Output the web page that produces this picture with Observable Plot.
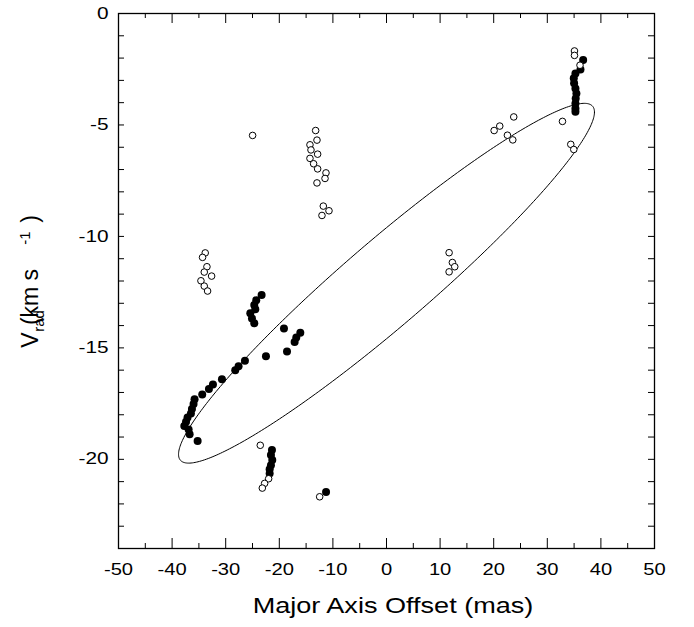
<!DOCTYPE html>
<html>
<head>
<meta charset="utf-8">
<script src="https://cdn.jsdelivr.net/npm/d3@7"></script>
<script src="https://cdn.jsdelivr.net/npm/@observablehq/plot@0.6"></script>
<style>
  html, body { margin: 0; padding: 0; background: white; }
</style>
</head>
<body>
<div id="chart"></div>
<script>
// Filled circles
const filledX = [-23.3, -24.3, -24.67, -24.48, -25.41, -25.1, -24.67,
  -19.13, -16.08, -16.83, -17.14, -18.56, -22.49,
  -26.41, -27.6, -28.22, -30.7, -32.38, -33.13, -34.38, -35.81, -36.0, -36.3, -36.49,
  -37.12, -37.4, -37.72, -36.92, -36.73, -35.24,
  -21.37, -21.56, -21.31, -21.56, -21.8, -21.8,
  -11.28,
  36.69, 36.19, 35.25, 34.94, 35.0, 35.25, 35.43, 35.3, 35.25, 35.25, 35.25];
const filledY = [-12.63, -12.86, -13.08, -13.27, -13.45, -13.68, -13.9,
  -14.13, -14.32, -14.53, -14.74, -15.16, -15.38,
  -15.58, -15.82, -16.0, -16.41, -16.64, -16.85, -17.09, -17.3, -17.52, -17.74, -17.94,
  -18.12, -18.31, -18.51, -18.66, -18.87, -19.18,
  -19.58, -19.81, -20.03, -20.26, -20.45, -20.63,
  -21.47,
  -2.09, -2.51, -2.69, -2.91, -3.13, -3.36, -3.59, -3.81, -4.04, -4.26, -4.41];

// Open circles
const openX = [-24.98,
  -13.22, -12.97, -14.28, -14.09, -12.85, -14.28, -13.6, -12.85, -11.29, -11.47, -12.97, -11.79, -10.73, -12.04,
  -33.82, -34.32, -33.5, -34.0, -32.63, -34.62, -34.0, -33.38,
  -23.55, -21.99, -22.74, -23.17, -12.47,
  35.07, 35.07, 36.1,
  32.83, 23.74, 21.13, 20.08, 22.56, 23.56, 34.38, 34.94,
  11.68, 12.29, 12.73, 11.68];
const openY = [-5.47,
  -5.25, -5.68, -5.89, -6.12, -6.31, -6.5, -6.74, -6.97, -7.15, -7.4, -7.6, -8.64, -8.85, -9.06,
  -10.74, -10.94, -11.36, -11.6, -11.78, -11.99, -12.23, -12.45,
  -19.37, -20.87, -21.08, -21.29, -21.68,
  -1.68, -1.88, -2.32,
  -4.84, -4.64, -5.05, -5.25, -5.46, -5.67, -5.87, -6.1,
  -10.73, -11.17, -11.36, -11.59];

// Fitted ellipse parameters (data units)
const ellipseCenterX = 0;
const ellipseCenterY = -12.1;
const ellipseXAmp = 38.8;
const ellipseYAmp = 8.07;
const ellipsePhase = 0.314;

// Axis ticks
const xLabelTicks = [-50, -40, -30, -20, -10, 0, 10, 20, 30, 40, 50];
const xMinorTicks = [-45, -35, -25, -15, -5, 5, 15, 25, 35, 45];
const yLabelTicks = [-20, -15, -10, -5, 0];
const yMinorTicks = d3.range(-24, 1, 1);

const filled = filledX.map((x, i) => ({x, y: filledY[i]}));
const open = openX.map((x, i) => ({x, y: openY[i]}));
const ellipse = d3.range(0, 361).map(d => {
  const t = d * Math.PI / 180;
  return {x: ellipseCenterX + ellipseXAmp * Math.cos(t), y: ellipseCenterY + ellipseYAmp * Math.cos(t - ellipsePhase)};
});

const fmt = d => String(d);
const W = 694, H = 627, ML = 118, MR = 40, MT = 13, MB = 79;
const frameW = W - ML - MR, frameH = H - MT - MB;

const chart = Plot.plot({
  width: W,
  height: H,
  marginLeft: ML,
  marginRight: MR,
  marginTop: MT,
  marginBottom: MB,
  style: {fontFamily: "'Liberation Sans', Arial, sans-serif", fontSize: "16px", background: "white", color: "black"},
  x: {domain: [-50, 50]},
  y: {domain: [-24, 0]},
  marks: [
    // inward tick marks
    Plot.tickX(xLabelTicks, {x: d => d, stroke: "black", insetTop: frameH - 10}),
    Plot.tickX(xMinorTicks, {x: d => d, stroke: "black", insetTop: frameH - 5}),
    Plot.tickX(xLabelTicks, {x: d => d, stroke: "black", insetBottom: frameH - 10}),
    Plot.tickX(xMinorTicks, {x: d => d, stroke: "black", insetBottom: frameH - 5}),
    Plot.tickY(yMinorTicks, {y: d => d, stroke: "black", insetRight: frameW - 6}),
    Plot.tickY(yMinorTicks, {y: d => d, stroke: "black", insetLeft: frameW - 6}),
    Plot.frame({stroke: "black", strokeWidth: 1.3}),
    // tick labels
    Plot.axisX({anchor: "bottom", ticks: xLabelTicks, tickSize: 0, tickPadding: 15, tickFormat: fmt, fontSize: 16, label: null}),
    Plot.axisY({anchor: "left", ticks: yLabelTicks, tickSize: 0, tickPadding: 10, tickFormat: fmt, fontSize: 16, label: null}),
    Plot.line(ellipse, {x: "x", y: "y", stroke: "black", strokeWidth: 1}),
    Plot.dot(filled, {x: "x", y: "y", r: 4, fill: "black", stroke: "none"}),
    Plot.dot(open, {x: "x", y: "y", r: 3.3, fill: "white", stroke: "black", strokeWidth: 1})
  ]
});

document.getElementById("chart").appendChild(chart);

const svg = d3.select(chart);
// stretch tick labels horizontally to match reference proportions
svg.selectAll('g[aria-label="x-axis tick label"] text').each(function() {
  const len = this.getComputedTextLength();
  this.setAttribute("textLength", len * 1.26);
  this.setAttribute("lengthAdjust", "spacingAndGlyphs");
});
svg.selectAll('g[aria-label="y-axis tick label"] text').each(function() {
  const len = this.getComputedTextLength();
  this.setAttribute("textLength", len * 1.3);
  this.setAttribute("lengthAdjust", "spacingAndGlyphs");
});

// x-axis title
const xt = svg.append("text")
  .attr("x", 393).attr("y", 613)
  .attr("text-anchor", "middle")
  .attr("font-size", 22)
  .attr("fill", "black")
  .text("Major Axis Offset (mas)");
const xl = xt.node().getComputedTextLength();
xt.attr("textLength", xl * 1.23).attr("lengthAdjust", "spacingAndGlyphs");

// y-axis title with subscript and superscript
const yt = svg.append("text")
  .attr("transform", "translate(38,340) rotate(-90)")
  .attr("font-size", 23)
  .attr("fill", "black");
yt.append("tspan").attr("x", 0).attr("y", 0).text("V");
yt.append("tspan").attr("x", 19).attr("y", 6).attr("font-size", 15).text("rad");
yt.append("tspan").attr("x", 43).attr("y", 0).text("(km s");
yt.append("tspan").attr("x", 102).attr("y", -8).attr("font-size", 15).text("-1");
yt.append("tspan").attr("x", 121).attr("y", 0).text(")");
</script>
</body>
</html>
